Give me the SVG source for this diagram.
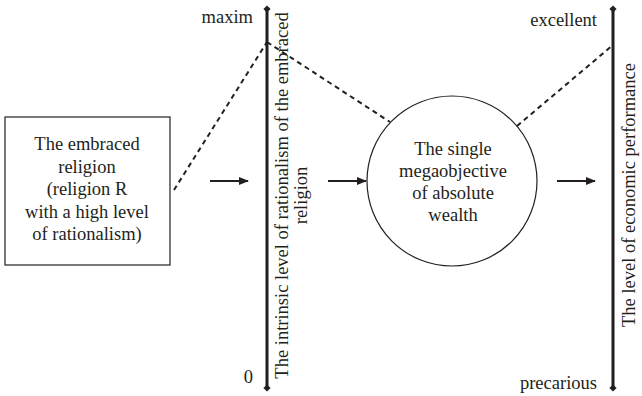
<svg xmlns="http://www.w3.org/2000/svg" width="642" height="396" viewBox="0 0 642 396">
<style>
text{font-family:'Liberation Serif','DejaVu Serif','Times New Roman',serif;font-size:18.5px;fill:#231f20}
.c{text-anchor:middle}
.r{text-anchor:end}
.axis{stroke:#231f20;stroke-width:3;fill:none}
.dash{stroke:#231f20;stroke-width:2;stroke-dasharray:5 4;fill:none}
.arr{stroke:#231f20;stroke-width:2;fill:none}
.shape{stroke:#231f20;stroke-width:1.2;fill:#fff}
</style>
<defs>
<marker id="ah" viewBox="0 0 10 10" refX="9" refY="5" markerWidth="10" markerHeight="10" markerUnits="userSpaceOnUse" orient="auto">
<path d="M0,1 L10,5 L0,9 Z" fill="#231f20"/>
</marker>
<marker id="tip" viewBox="0 0 10 10" refX="5" refY="5" markerWidth="9" markerHeight="9" markerUnits="userSpaceOnUse" orient="auto">
<path d="M1,5 L5,1 L9,5 L5,9 Z" fill="#231f20"/>
</marker>
</defs>
<g id="connectors">
<line class="dash" x1="174" y1="190" x2="267" y2="42"/>
<line class="dash" x1="267" y1="42" x2="390" y2="122"/>
<line class="dash" x1="517" y1="126" x2="613" y2="45"/>
<line class="arr" x1="210" y1="181" x2="248" y2="181" marker-end="url(#ah)"/>
<line class="arr" x1="328" y1="181" x2="366" y2="181" marker-end="url(#ah)"/>
<line class="arr" x1="557" y1="181" x2="595" y2="181" marker-end="url(#ah)"/>
</g>
<g id="religion-box" font-family="Liberation Serif, serif">
<rect class="shape" x="5" y="117" width="165" height="148"/>
<text class="c" x="87" y="150">The embraced</text>
<text class="c" x="87" y="172.5">religion</text>
<text class="c" x="87" y="195">(religion R</text>
<text class="c" x="87" y="217.5">with a high level</text>
<text class="c" x="87" y="240">of rationalism)</text>
</g>
<g id="rationalism-axis">
<line class="axis" x1="267" y1="9" x2="267" y2="388" marker-start="url(#tip)" marker-end="url(#tip)"/>
<text class="r" x="253" y="23">maxim</text>
<text class="r" x="253" y="383">0</text>
<text class="c" transform="translate(288,195.5) rotate(-90)">The intrinsic level of rationalism of the embraced</text>
<text class="c" transform="translate(307,195.5) rotate(-90)">religion</text>
</g>
<g id="megaobjective">
<circle class="shape" cx="452" cy="181" r="85"/>
<text class="c" x="453" y="155">The single</text>
<text class="c" x="453" y="177">megaobjective</text>
<text class="c" x="453" y="199">of absolute</text>
<text class="c" x="453" y="221">wealth</text>
</g>
<g id="performance-axis">
<line class="axis" x1="613" y1="9" x2="613" y2="388" marker-start="url(#tip)" marker-end="url(#tip)"/>
<text class="r" x="597" y="26">excellent</text>
<text class="r" x="597" y="389">precarious</text>
<text class="c" transform="translate(635,195) rotate(-90)">The level of economic performance</text>
</g>
</svg>
